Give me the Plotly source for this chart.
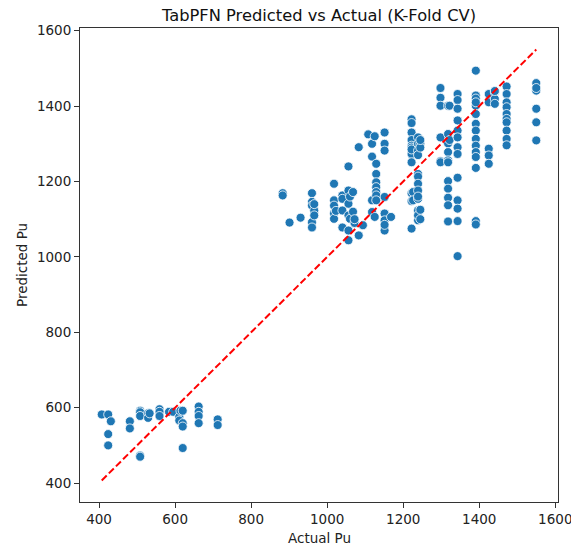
import plotly.graph_objects as go

# ---- data ----
groups_actual = [407, 424, 431, 481, 508, 529, 533, 559, 584, 595, 611, 614, 620, 662, 712,
                 883, 901, 930, 960, 966, 1018, 1023, 1040, 1056, 1060, 1068, 1072, 1083, 1094,
                 1108, 1118, 1125, 1129, 1151, 1168, 1222, 1226, 1239, 1245, 1298, 1318, 1322,
                 1343, 1391, 1425, 1441, 1472, 1550]
groups_pred = [
    [582], [582, 530, 500], [564], [564, 545], [592, 588, 578, 473, 470], [585, 573], [585],
    [596, 589, 578], [589], [589], [576, 566], [592], [592, 559, 550, 493],
    [603, 589, 578, 559], [569, 554],
    [1169, 1163], [1091], [1104], [1169, 1146, 1136, 1092, 1078], [1123, 1110, 1140],
    [1194, 1150, 1136, 1115, 1101], [1122], [1163, 1154, 1123, 1078],
    [1240, 1176, 1141, 1110, 1070, 1044], [1101, 1160], [1172, 1120], [1090, 1100],
    [1291, 1057], [1084], [1325], [1300, 1266, 1150, 1119], [1106, 1320],
    [1247, 1220, 1198, 1185, 1172, 1163, 1150],
    [1330, 1300, 1282, 1159, 1115, 1097, 1070, 1085], [1106],
    [1365, 1355, 1330, 1310, 1295, 1273, 1251, 1169, 1148, 1075, 1290, 1285], [1172, 1150],
    [1317, 1300, 1282, 1270, 1220, 1213, 1194, 1176, 1154, 1123, 1097, 1160, 1110],
    [1300, 1290, 1310, 1100, 1125],
    [1448, 1422, 1401, 1317, 1254, 1251],
    [1401, 1326, 1301, 1278, 1256, 1251, 1201, 1181, 1157, 1137, 1094], [1401, 1310],
    [1432, 1416, 1393, 1362, 1335, 1317, 1291, 1273, 1210, 1150, 1128, 1095, 1002],
    [1494, 1428, 1401, 1379, 1353, 1335, 1313, 1295, 1278, 1265, 1236, 1095, 1086, 1420, 1410],
    [1432, 1410, 1287, 1269, 1247], [1437, 1419, 1406, 1440],
    [1452, 1432, 1410, 1397, 1379, 1366, 1357, 1335, 1313, 1296],
    [1461, 1441, 1393, 1357, 1309, 1448],
]
actual_pu = [a for a, ps in zip(groups_actual, groups_pred) for _ in ps]
predicted_pu = [p for ps in groups_pred for p in ps]

x_ticks = [400, 600, 800, 1000, 1200, 1400, 1600]
y_ticks = [400, 600, 800, 1000, 1200, 1400, 1600]

title_text = "TabPFN Predicted vs Actual (K-Fold CV)"
x_label = "Actual Pu"
y_label = "Predicted Pu"

lo, hi = min(actual_pu), max(actual_pu)
span = hi - lo
x_range = [lo - 0.05 * span, hi + 0.05 * span]
y_range = [lo - 0.05 * span, hi + 0.05 * span]

FONT = "DejaVu Sans"

fig = go.Figure()
fig.add_trace(go.Scatter(
    x=actual_pu, y=predicted_pu, mode="markers",
    marker=dict(size=9, color="#1f77b4", line=dict(color="white", width=0.8)),
    showlegend=False, hoverinfo="skip",
))
fig.add_trace(go.Scatter(
    x=[lo, hi], y=[lo, hi], mode="lines",
    line=dict(color="red", width=2, dash="7px,3px"),
    showlegend=False, hoverinfo="skip",
))

axis_common = dict(
    showgrid=False, zeroline=False, showline=True, linecolor="#333", linewidth=1,
    mirror=True, ticks="outside", ticklen=5, tickwidth=1, tickcolor="#333",
    tickfont=dict(family=FONT, size=13.5, color="#222"),
    ticklabeloverflow="allow", automargin=False,
)
fig.update_xaxes(range=x_range, tickvals=x_ticks, **axis_common)
fig.update_yaxes(range=y_range, tickvals=y_ticks, **axis_common)

fig.update_layout(
    width=571, height=546,
    margin=dict(l=80, r=13, t=28, b=44, autoexpand=False),
    paper_bgcolor="white", plot_bgcolor="white",
    title=dict(text=title_text, x=0.5, xref="paper", y=1 - 15 / 546, yref="container",
               yanchor="middle", xanchor="center",
               font=dict(family=FONT, size=16.3, color="#111")),
    annotations=[
        dict(text=x_label, xref="paper", yref="paper", x=0.5, y=-(538 - 502) / 474,
             showarrow=False, xanchor="center", yanchor="middle",
             font=dict(family=FONT, size=13.5, color="#222")),
        dict(text=y_label, xref="paper", yref="paper", x=-(80 - 22) / 478, y=0.5,
             showarrow=False, textangle=-90, xanchor="center", yanchor="middle",
             font=dict(family=FONT, size=13.5, color="#222")),
    ],
)

fig.write_html("out.html")
